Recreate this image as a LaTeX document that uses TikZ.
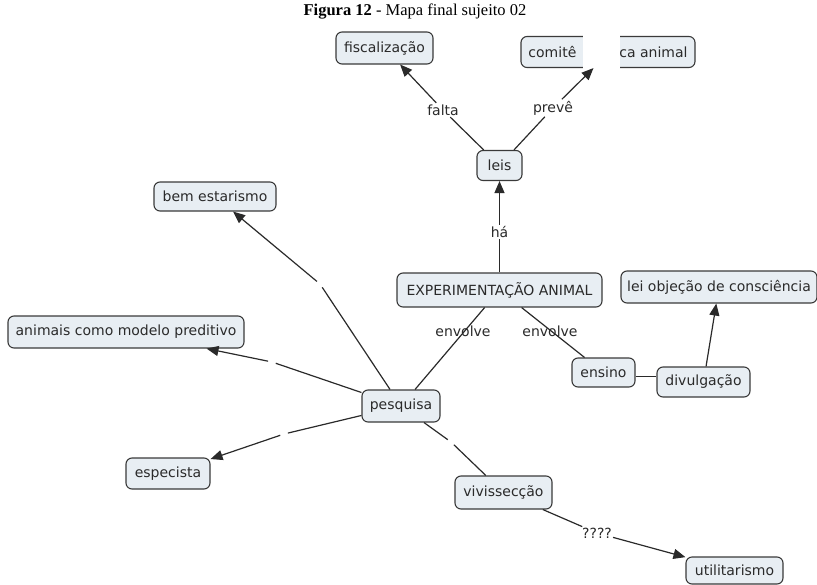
\documentclass[tikz,border=0pt]{standalone}
\usepackage{fontspec}
\setmainfont{DejaVu Sans}
\newfontfamily\captionfont{Liberation Serif}
\usetikzlibrary{arrows.meta}
\definecolor{conceptfill}{HTML}{E8EEF3}
\definecolor{conceptline}{HTML}{3A3A3A}
\definecolor{inkgray}{HTML}{2A2A2A}

\begin{document}
\begin{tikzpicture}[x=1pt,y=-1pt,
  concept/.style={draw=conceptline, fill=conceptfill, line width=1.1pt,
    rounded corners=6pt, inner sep=0pt, text=inkgray,
    font=\fontsize{14}{16}\selectfont},
  link/.style={draw=inkgray, line width=1.2pt},
  arrowlink/.style={link, -{Triangle[length=12pt,width=10pt]}},
  phrase/.style={fill=white, inner sep=1.5pt, text=inkgray,
    font=\fontsize{14}{16}\selectfont},
  clearphrase/.style={phrase, fill=none},
  gapin/.style={shorten >=4pt},
  gapout/.style={shorten <=4pt},
]
\useasboundingbox (0,0) rectangle (817,584);

% caption
\node[text=black] (title) at (415,12)
  {\captionfont\fontsize{16.5}{18}\selectfont\textbf{Figura 12} - Mapa final sujeito 02};

% concepts
\node[concept, minimum width=97pt,  minimum height=32pt] (fisc)    at (384.5,48)  {fiscalização};
\node[concept, minimum width=174pt, minimum height=31pt] (comite)  at (608,52)    {comitê\hspace{43pt}ca animal};
\node[concept, minimum width=45pt,  minimum height=30pt] (leis)    at (499.5,165.5) {leis};
\node[concept, minimum width=205pt, minimum height=34pt] (exp)     at (499.5,290) {EXPERIMENTAÇÃO ANIMAL};
\node[concept, minimum width=196pt, minimum height=32pt] (leiobj)  at (719,287)   {lei objeção de consciência};
\node[concept, minimum width=63pt,  minimum height=29pt] (ensino)  at (603.5,372.5) {ensino};
\node[concept, minimum width=93pt,  minimum height=30pt] (divul)   at (703.5,382) {divulgação};
\node[concept, minimum width=78pt,  minimum height=32pt] (pesq)    at (401,406)   {pesquisa};
\node[concept, minimum width=122pt, minimum height=29pt] (bem)     at (215,196.5) {bem estarismo};
\node[concept, minimum width=236pt, minimum height=32pt] (animais) at (126,332)   {animais como modelo preditivo};
\node[concept, minimum width=84pt,  minimum height=31pt] (espec)   at (168,473.5) {especista};
\node[concept, minimum width=97pt,  minimum height=33pt] (viv)     at (503.5,492.5) {vivissecção};
\node[concept, minimum width=97pt,  minimum height=27pt] (util)    at (734.5,570.5) {utilitarismo};

% blanked middle of the committee box
\fill[white] (583,30) rectangle (620,69.5);

% linking phrases
\node[phrase] (falta) at (443,110) {falta};
\node[phrase] (preve) at (553,108) {prevê};
\node[phrase] (ha)    at (499.5,232) {há};
\node[phrase, inner sep=1pt] (quest) at (597,533) {????};

% empty linking points
\coordinate (kbem)  at (320,284);
\coordinate (kanim) at (272,362);
\coordinate (kesp)  at (284,434);
\coordinate (kviv)  at (451,442);

% connectors
\draw[link] (leis) -- (falta);
\draw[arrowlink] (falta) -- (fisc);
\draw[link] (leis) -- (preve);
\draw[arrowlink] (preve) -- (comite.south -| 593.5,0);
\draw[link] (exp) -- (ha);
\draw[arrowlink] (ha) -- (leis);
\draw[link] (exp) -- (pesq);
\draw[link] (exp) -- (ensino);
\draw[link] ([yshift=-4pt]ensino.east) -- ([yshift=-4pt]ensino.east -| divul.west);
\draw[arrowlink] (divul) -- (leiobj);

% phrases laid over their connectors
\node[clearphrase] (envA) at (463,331) {envolve};
\node[clearphrase] (envB) at (550,331) {envolve};

\draw[link, gapin] (pesq) -- (kbem);
\draw[arrowlink, gapout] (kbem) -- (bem);
\draw[link, gapin] (pesq) -- (kanim);
\draw[arrowlink, gapout] (kanim) -- (animais);
\draw[link, gapin] (pesq) -- (kesp);
\draw[arrowlink, gapout] (kesp) -- (espec);
\draw[link, gapin] (pesq) -- (kviv);
\draw[link, gapout] (kviv) -- (viv);

\draw[link] (viv) -- (quest);
\draw[arrowlink] (quest) -- (util);
\end{tikzpicture}
\end{document}
